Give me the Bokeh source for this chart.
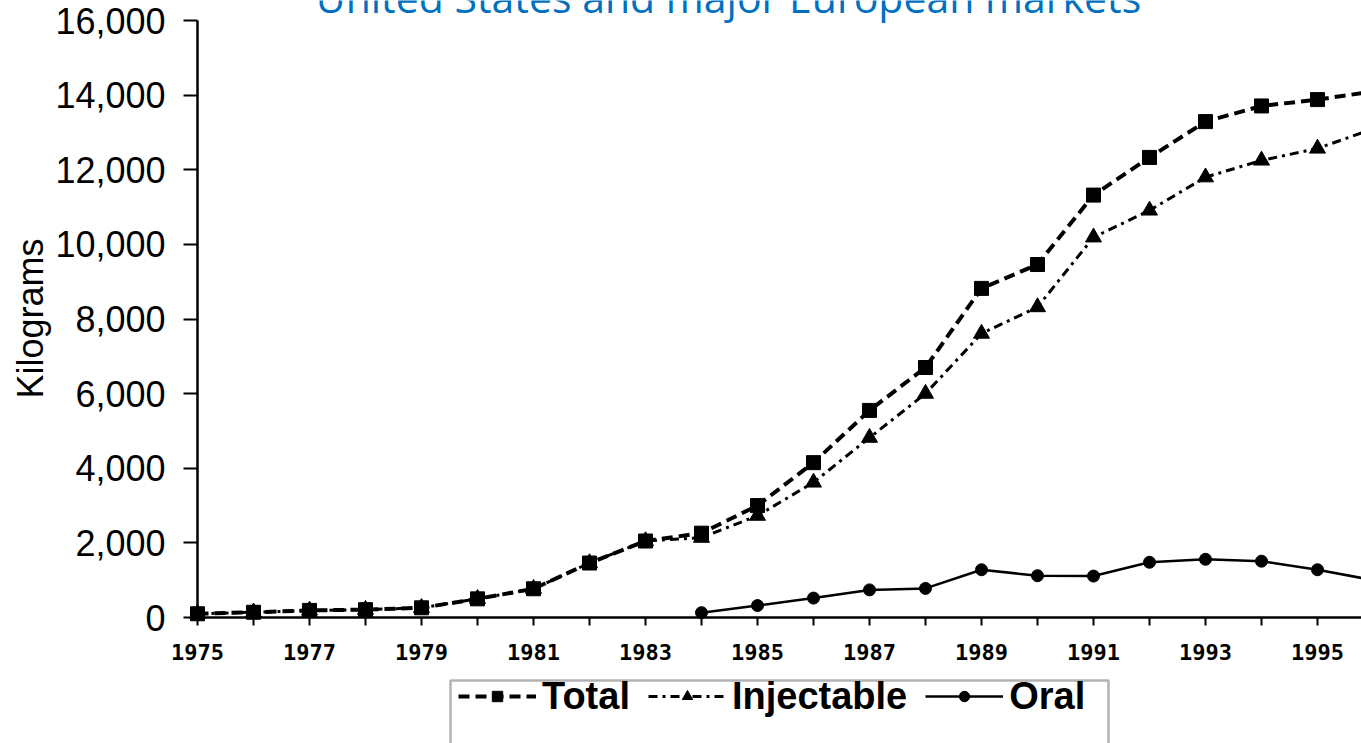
import math
from bokeh.plotting import figure
from bokeh.models import (Range1d, FixedTicker, NumeralTickFormatter, Legend, LegendItem,
                          Label, BoxAnnotation, LinearAxis)
from bokeh.embed import file_html
from bokeh.resources import INLINE

# ---- data ----
years = list(range(1975, 1997))
total = [100, 140, 190, 210, 260, 500, 770, 1460, 2050, 2260, 3000, 4150, 5550, 6700,
         8820, 9460, 11320, 12330, 13290, 13710, 13880, 14100]
injectable = [100, 140, 190, 210, 260, 500, 770, 1460, 2050, 2140, 2730, 3620, 4820, 6000,
              7610, 8320, 10190, 10910, 11800, 12250, 12570, 13100]
oral_years = list(range(1984, 1997))
oral = [130, 320, 520, 740, 780, 1280, 1120, 1110, 1480, 1560, 1510, 1280, 1000]

x_label_years = list(range(1975, 1997, 2))
x_minor_years = list(range(1976, 1997, 2))
y_ticks = list(range(0, 16001, 2000))
title_text = "United States and major European markets"
y_title = "Kilograms"

# ---- layout constants (px) ----
W, H = 1361, 743
X0_PX = 197                      # where 1975 sits
Y_TOP_PX, Y_ZERO_PX = 20, 617    # where 16,000 and 0 sit
PX_PER_YEAR = 56
KG_PER_PX = 16000 / (Y_ZERO_PX - Y_TOP_PX)

p = figure(width=W, height=H, output_backend="svg", toolbar_location=None,
           x_axis_location=None, y_axis_location=None,
           x_range=Range1d(1975 - X0_PX / PX_PER_YEAR, 1975 + (W - X0_PX) / PX_PER_YEAR),
           y_range=Range1d(-(H - Y_ZERO_PX) * KG_PER_PX, 16000 + Y_TOP_PX * KG_PER_PX),
           min_border_left=0, min_border_right=0, min_border_top=0, min_border_bottom=0)
p.outline_line_color = None
p.grid.visible = False
p.background_fill_color = "white"
p.border_fill_color = "white"

# x axis, pinned to y = 0
xa = LinearAxis(fixed_location=0, bounds=(1975, 2000))
xa.ticker = FixedTicker(ticks=x_label_years, minor_ticks=x_minor_years)
xa.axis_line_width = 2.5
xa.axis_line_color = "black"
xa.major_tick_out = 8
xa.major_tick_in = 0
xa.minor_tick_out = 8
xa.minor_tick_in = 0
xa.major_tick_line_width = 2
xa.minor_tick_line_width = 2
xa.major_tick_line_color = "black"
xa.minor_tick_line_color = "black"
xa.major_label_text_font = "DejaVu Sans Mono"
xa.major_label_text_font_style = "bold"
xa.major_label_text_font_size = "22px"
xa.major_label_text_color = "black"
xa.major_label_standoff = 18
p.add_layout(xa, "below")

# y axis, pinned to x = 1975
ya = LinearAxis(fixed_location=1975, bounds=(0, 16000))
ya.ticker = FixedTicker(ticks=y_ticks)
ya.formatter = NumeralTickFormatter(format="0,0")
ya.axis_line_width = 2.5
ya.axis_line_color = "black"
ya.major_tick_out = 14
ya.major_tick_in = 0
ya.major_tick_line_width = 2
ya.major_tick_line_color = "black"
ya.minor_tick_line_color = None
ya.major_label_text_font = "Liberation Sans"
ya.major_label_text_font_size = "36px"
ya.major_label_text_color = "black"
ya.major_label_standoff = 18
p.add_layout(ya, "left")

# y-axis title
ytitle = Label(x=30, y=H - 318, x_units="screen", y_units="screen", text=y_title,
               angle=math.pi / 2, text_align="center", text_baseline="middle",
               text_font="Liberation Sans", text_font_size="36px", text_color="black")
p.add_layout(ytitle)

# series
l_oral = p.line(oral_years, oral, line_color="black", line_width=2.5)
s_oral = p.scatter(oral_years, oral, marker="circle", size=12, fill_color="black", line_color="black")
l_inj = p.line(years, injectable, line_color="black", line_width=3, line_dash="9 5 3 5")
s_inj = p.scatter(years, injectable, marker="triangle", size=16, fill_color="black", line_color="black")
l_tot = p.line(years, total, line_color="black", line_width=4, line_dash="11 6")
s_tot = p.scatter(years, total, marker="square", size=14, fill_color="black", line_color="black")

# legend frame, running off the bottom edge as in the reference
px_to_year = lambda px: 1975 + (px - X0_PX) / PX_PER_YEAR
px_to_kg = lambda py: (Y_ZERO_PX - py) * KG_PER_PX
box = BoxAnnotation(left=px_to_year(450), right=px_to_year(1108), top=px_to_kg(680), bottom=px_to_kg(1000),
                    fill_alpha=0, line_color="black", line_width=2.5)
p.add_layout(box)

legend = Legend(items=[
    LegendItem(label="Total", renderers=[l_tot, s_tot]),
    LegendItem(label="Injectable", renderers=[l_inj, s_inj]),
    LegendItem(label="Oral", renderers=[l_oral, s_oral]),
], orientation="horizontal", location=(458, 25),
    glyph_width=78, glyph_height=26, label_height=44, label_standoff=6, spacing=18,
    padding=0, margin=0, border_line_alpha=0, background_fill_alpha=0,
    label_text_font="Liberation Sans", label_text_font_style="bold",
    label_text_font_size="38px", label_text_color="black")
p.add_layout(legend, "center")

# chart title, cut off by the top edge as in the reference
title = Label(x=728, y=H + 4, x_units="screen", y_units="screen", text=title_text,
              text_align="center", text_baseline="middle", text_font="Open Sans",
              text_font_size="41px", text_color="#0070C0")
p.add_layout(title)

open("out.html", "w").write(file_html(p, INLINE))
